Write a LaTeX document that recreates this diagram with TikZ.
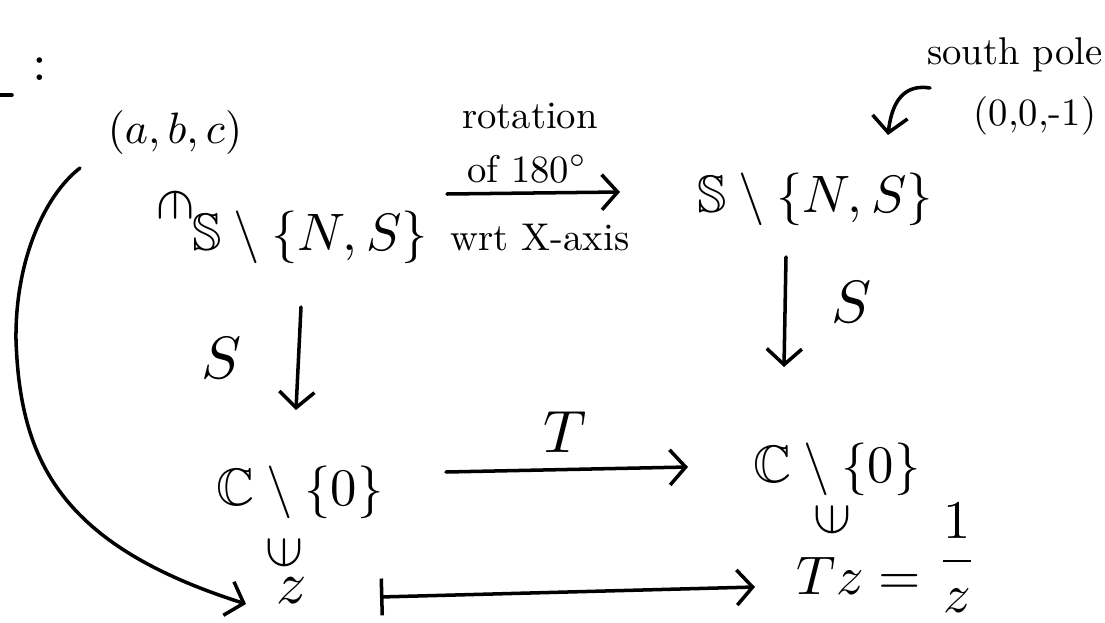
\documentclass[tikz,border=0pt]{standalone}
\usepackage{amsmath,amssymb}
\usepackage{graphicx}
\usetikzlibrary{arrows.meta,calc}
\newcommand{\hs}[2]{\scalebox{#1}{#2}}
\tikzset{
  hw/.style={inner sep=0pt, anchor=base},
  sym/.style={inner sep=0pt, anchor=center},
  pen/.style={line width=2pt, line cap=round, line join=round},
  arr/.style={pen, -{Straight Barb[length=9pt,width=20pt]}},
  maparr/.style={pen, {Bar[width=21pt]}-{Straight Barb[length=9pt,width=20pt]}},
}
\begin{document}
\begin{tikzpicture}[x=0.02cm,y=-0.02cm]
\useasboundingbox[fill=white] (0,0) rectangle (1105,622);
% fragment at top left
\draw[pen] (0,95) -- (12,95);
\node[hw] (colon) at (40,80) {\hs{3}{$:$}};
% top row
\node[hw] (abc) at (175,143) {\hs{2.5}{$(a,b,c)$}};
\node[sym] (in1) at (176,205) {\hs{3.2}{\rotatebox{-90}{$\in$}}};
\node[hw] (S1) at (310,250) {\hs{3}{$\mathbb{S}\setminus\{N,S\}$}};
\node[hw] (rot1) at (530,128) {\hs{2.2}{rotation}};
\node[hw] (rot2) at (527,182) {\hs{2.2}{of 180$^{\circ}$}};
\node[hw] (rot3) at (540,250) {\hs{2.2}{wrt X-axis}};
\node[hw] (S2) at (815,212) {\hs{3}{$\mathbb{S}\setminus\{N,S\}$}};
\node[hw] (sp) at (1015,64) {\hs{2.2}{south pole}};
\node[hw] (pt) at (1035,125) {\hs{2.2}{(0,0,-1)}};
% vertical labels
\node[hw] (Sl) at (222,378) {\hs{3.4}{$S$}};
\node[hw] (Sr) at (852,322) {\hs{3.4}{$S$}};
% middle row
\node[hw] (C1) at (300,505) {\hs{3}{$\mathbb{C}\setminus\{0\}$}};
\node[hw] (C2) at (837,482) {\hs{3}{$\mathbb{C}\setminus\{0\}$}};
\node[hw] (Tl) at (565,452) {\hs{3.4}{$T$}};
% bottom row
\node[sym] (in2) at (284,553) {\hs{3.2}{\rotatebox{90}{$\in$}}};
\node[sym] (in3) at (832,520) {\hs{3.2}{\rotatebox{90}{$\in$}}};
\node[hw] (z) at (292,603) {\hs{3.4}{$z$}};
\node[hw] (Tz) at (887,594) {\hs{3.1}{$Tz=\raisebox{3.5pt}{$\displaystyle\frac{1}{z}$}$}};
% connectors
\draw[arr] ($(S1.base)+(137,-56)$) -- ($(S2.base)+(-195,-20)$);
\draw[arr] ($(S1.base)+(-9,57)$) -- ($(C1.base)+(-4,-95)$);
\draw[arr] ($(S2.base)+(-29,45)$) -- ($(C2.base)+(-53,-115)$);
\draw[arr] ($(C1.base)+(146,-33)$) -- ($(C2.base)+(-149,-15)$);
\draw[maparr] ($(z.base)+(88,-6)$) -- ($(Tz.base)+(-132,-7)$);
\draw[arr] ($(abc.base)+(-95,25)$) .. controls (45,195) and (15,260) .. (16,340)
   .. controls (20,460) and (60,545) .. ($(z.base)+(-46,1)$);
\draw[arr] ($(pt.base)+(-105,-37)$) .. controls (905,84) and (892,100) .. ($(S2.base)+(73,-77)$);
\end{tikzpicture}
\end{document}
